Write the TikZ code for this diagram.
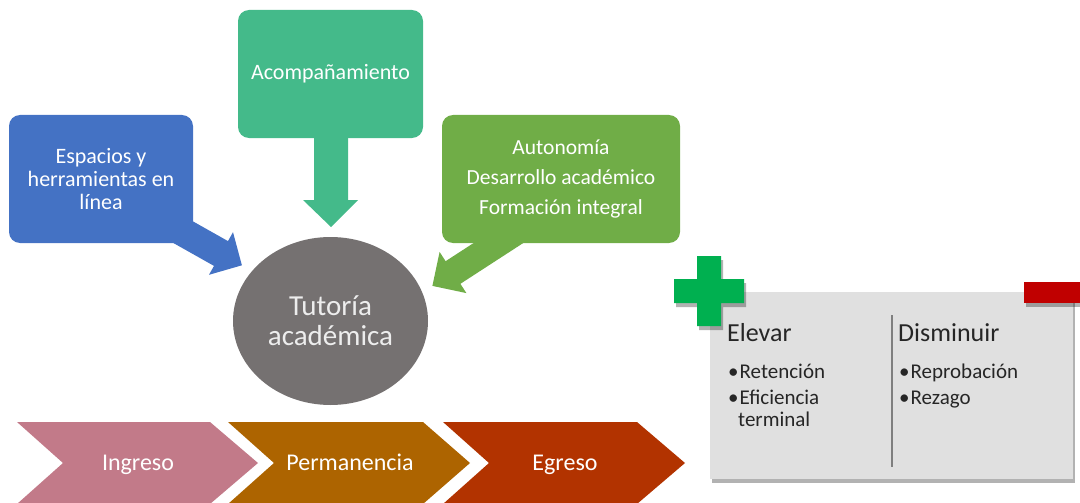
\documentclass[tikz,border=0pt]{standalone}
\usepackage{fontspec}
\setmainfont{Carlito}
\usetikzlibrary{shadows,shapes.geometric}
\definecolor{cblue}{HTML}{4472C4}
\definecolor{cteal}{HTML}{44BA8A}
\definecolor{cgreen}{HTML}{70AD47}
\definecolor{cgray}{HTML}{757171}
\definecolor{cpink}{HTML}{C27A89}
\definecolor{cbrown}{HTML}{AD6400}
\definecolor{cred}{HTML}{B23300}
\definecolor{cpanel}{HTML}{E0E0E0}
\definecolor{cplus}{HTML}{00B050}
\definecolor{cminus}{HTML}{C00000}
\definecolor{ctext}{HTML}{262626}
\definecolor{cline}{HTML}{7F7F7F}
\begin{document}
\begin{tikzpicture}[x=1pt,y=-1pt,
  topbox/.style={draw=none, rounded corners=11pt, text=white, align=center, inner sep=0pt},
  chevtext/.style={text=white, anchor=base, font=\fontsize{24}{26}\selectfont},
  ptitle/.style={text=ctext, anchor=base west, inner sep=0pt, font=\fontsize{26}{28}\selectfont},
  pitem/.style={text=ctext, anchor=base west, inner sep=0pt, font=\fontsize{21}{23}\selectfont},
  myshadow/.style={drop shadow={shadow xshift=2pt, shadow yshift=-4pt, fill=black, opacity=0.3}}
]
\useasboundingbox (0,0) rectangle (1080,503);

% block arrows (behind boxes)
\fill[cblue] (167.1,206.8) -- (228,241.1) -- (233,232.2) -- (241.9,265.3) -- (209,274.8) -- (214,265.9) -- (153.1,231.6) -- cycle;
\fill[cteal] (314,130) -- (314,200) -- (303,200) -- (331,227) -- (358,200) -- (348,200) -- (348,130) -- cycle;
\fill[cgreen] (529.6,206.7) -- (445.6,261.2) -- (439.6,251.9) -- (432.4,285.9) -- (466.4,293.1) -- (460.4,283.8) -- (544.4,229.3) -- cycle;

% boxes
\node[topbox, fill=cblue, minimum width=184pt, minimum height=128pt,
      font=\fontsize{22}{23}\selectfont] (esp) at (101,179)
      {Espacios y\\herramientas en\\línea};
\node[topbox, fill=cteal, minimum width=185pt, minimum height=128pt,
      font=\fontsize{22}{24}\selectfont] (aco) at (330.5,74) {Acompañamiento};
\node[topbox, fill=cgreen, minimum width=238pt, minimum height=128pt,
      font=\fontsize{21.5}{30}\selectfont] (aut) at (561,179)
      {Autonomía\\Desarrollo académico\\Formación integral};

% central ellipse
\node[ellipse, fill=cgray, minimum width=195pt, minimum height=168pt, inner sep=0pt,
      text=white!93!black, align=center, font=\fontsize{29}{30}\selectfont] (tut) at (330.5,321)
      {Tutoría\\académica};

% chevrons
\fill[cpink]  (17,422) -- (210,422) -- (258,463) -- (210,504) -- (17,504) -- (63,463) -- cycle;
\fill[cbrown] (228,422) -- (423,422) -- (470,463) -- (423,504) -- (228,504) -- (274,463) -- cycle;
\fill[cred]   (443,422) -- (637,422) -- (685,463) -- (637,504) -- (443,504) -- (489,463) -- cycle;
\node[chevtext] (ing) at (138,470) {Ingreso};
\node[chevtext] (per) at (350,470) {Permanencia};
\node[chevtext] (egr) at (565,470) {Egreso};

% panel
\node[fill=cpanel, minimum width=363pt, minimum height=187pt, inner sep=0pt, myshadow] (panel) at (891.5,385.5) {};
\draw[cline, line width=1.5pt] (892,315) -- (892,467);
\fill[cplus, myshadow] (697,256) -- (721,256) -- (721,279) -- (744,279) -- (744,303) -- (721,303) -- (721,326) -- (697,326) -- (697,303) -- (674,303) -- (674,279) -- (697,279) -- cycle;
\fill[cminus, myshadow] (1024,282) rectangle (1080,303);

\node[ptitle] (elev) at (727,341) {Elevar};
\node[ptitle] (dism) at (898,341) {Disminuir};
\node[pitem] (b1) at (728,378) {•\kern1pt Retención};
\node[pitem] (b2) at (728,404) {•\kern1pt Eficiencia};
\node[pitem] (b3) at (738,426) {terminal};
\node[pitem] (b4) at (899,378) {•\kern1pt Reprobación};
\node[pitem] (b5) at (899,404) {•\kern1pt Rezago};
\end{tikzpicture}
\end{document}
